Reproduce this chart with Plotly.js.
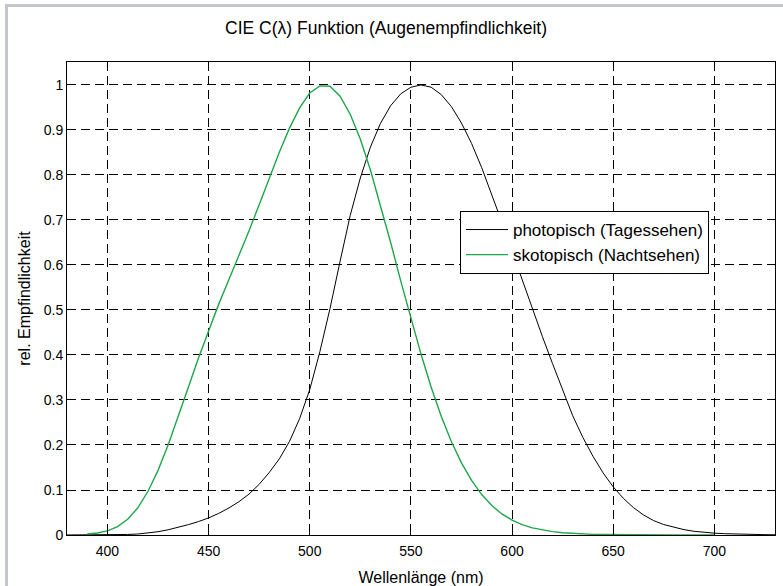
<!DOCTYPE html>
<html>
<head>
<meta charset="utf-8">
<script src="https://cdn.plot.ly/plotly-3.0.1.min.js"></script>
<style>
  html, body { margin: 0; padding: 0; background: #ffffff; }
  #wrap { position: relative; width: 783px; height: 586px; }
  #chart { position: absolute; left: 0; top: 0; width: 783px; height: 586px; }
  #frame { position: absolute; left: 5px; top: 4px; right: 0; bottom: 0;
           border-left: 3px solid #c3c7cc; border-top: 3px solid #c3c7cc;
           pointer-events: none; }
</style>
</head>
<body>
<div id="wrap">
  <div id="chart"></div>
  <div id="frame"></div>
</div>
<script>
// Photopic (Tagessehen) relative sensitivity, 380-730 nm
const photopicWavelength = [380,385,390,395,400,405,410,415,420,425,430,435,440,445,450,455,460,465,470,475,480,485,490,495,500,505,510,515,520,525,530,535,540,545,550,555,560,565,570,575,580,585,590,595,600,605,610,615,620,625,630,635,640,645,650,655,660,665,670,675,680,685,690,695,700,705,710,715,720,725,730];
const photopicValues = [0.000039,0.000064,0.00012,0.000217,0.000396,0.00064,0.00121,0.00218,0.004,0.0073,0.0116,0.01684,0.023,0.0298,0.038,0.048,0.06,0.0739,0.09098,0.1126,0.13902,0.1693,0.20802,0.2586,0.323,0.4073,0.503,0.6082,0.71,0.7932,0.862,0.91485,0.954,0.9803,0.99495,1.0,0.995,0.9786,0.952,0.9154,0.87,0.8163,0.757,0.6949,0.631,0.5668,0.503,0.4412,0.381,0.321,0.265,0.217,0.175,0.1382,0.107,0.0816,0.061,0.04458,0.032,0.0232,0.017,0.01192,0.00821,0.005723,0.004102,0.002929,0.002091,0.001484,0.001047,0.00074,0.00052];

// Scotopic (Nachtsehen) relative sensitivity, 390-700 nm
const scotopicWavelength = [390,395,400,405,410,415,420,425,430,435,440,445,450,455,460,465,470,475,480,485,490,495,500,505,510,515,520,525,530,535,540,545,550,555,560,565,570,575,580,585,590,595,600,605,610,615,620,625,630,635,640,645,650,655,660,665,670,675,680,685,690,695,700];
const scotopicValues = [0.002209,0.00453,0.00929,0.01852,0.03484,0.0604,0.0966,0.1436,0.1998,0.2625,0.3281,0.3931,0.455,0.513,0.567,0.62,0.676,0.734,0.793,0.851,0.904,0.949,0.982,0.998,0.997,0.975,0.935,0.88,0.811,0.733,0.65,0.564,0.481,0.402,0.3288,0.2639,0.2076,0.1602,0.1212,0.0899,0.06546,0.04682,0.03315,0.02312,0.01593,0.01088,0.00737,0.00497,0.003335,0.002235,0.001497,0.001005,0.000677,0.000459,0.0003129,0.0002146,0.000148,0.0001026,0.0000715,0.0000501,0.0000353,0.000025,0.0000178];

const xTicks = [400,450,500,550,600,650,700];
const yTicks = [0,0.1,0.2,0.3,0.4,0.5,0.6,0.7,0.8,0.9,1];
const yTickLabels = ['0','0.1','0.2','0.3','0.4','0.5','0.6','0.7','0.8','0.9','1'];

const seriesNames = ['photopisch (Tagessehen)', 'skotopisch (Nachtsehen)'];

const font = 'Liberation Sans, Arial, sans-serif';

const traces = [
  {
    x: photopicWavelength, y: photopicValues, type: 'scatter', mode: 'lines',
    name: seriesNames[0], line: {color: '#000000', width: 1}
  },
  {
    x: scotopicWavelength, y: scotopicValues, type: 'scatter', mode: 'lines',
    name: seriesNames[1], line: {color: '#1fa64a', width: 1.4}
  }
];

const axisCommon = {
  showline: true, linecolor: '#000000', linewidth: 1, mirror: 'ticks',
  ticks: 'inside', ticklen: 5, tickcolor: '#000000', tickwidth: 1,
  showgrid: true, gridcolor: '#000000', gridwidth: 1, griddash: '9px,5px',
  zeroline: false,
  tickfont: {family: font, size: 14, color: '#000000'}
};

const layout = {
  width: 783, height: 586,
  margin: {l: 67, r: 8, t: 62, b: 51},
  paper_bgcolor: '#ffffff', plot_bgcolor: '#ffffff',
  title: {
    text: 'CIE C(λ) Funktion (Augenempfindlichkeit)',
    font: {family: font, size: 17.5, color: '#000000'},
    xref: 'container', x: 0.493, xanchor: 'center',
    yref: 'container', y: 0.952, yanchor: 'middle'
  },
  xaxis: Object.assign({}, axisCommon, {
    range: [380, 730], tickvals: xTicks, ticklabelstandoff: 3,
    title: {text: 'Wellenlänge (nm)', font: {family: font, size: 16, color: '#000000'}, standoff: 14}
  }),
  yaxis: Object.assign({}, axisCommon, {
    range: [0, 1.051], tickvals: yTicks, ticktext: yTickLabels,
    title: {text: 'rel. Empfindlichkeit', font: {family: font, size: 16, color: '#000000'}, standoff: 9}
  }),
  showlegend: true,
  legend: {
    x: 0.555, y: 0.685, xanchor: 'left', yanchor: 'top',
    bgcolor: '#ffffff', bordercolor: '#000000', borderwidth: 1,
    font: {family: font, size: 17, color: '#000000'},
    itemwidth: 42,
    tracegroupgap: 0
  }
};

Plotly.newPlot('chart', traces, layout, {displayModeBar: false, staticPlot: true});
</script>
</body>
</html>
